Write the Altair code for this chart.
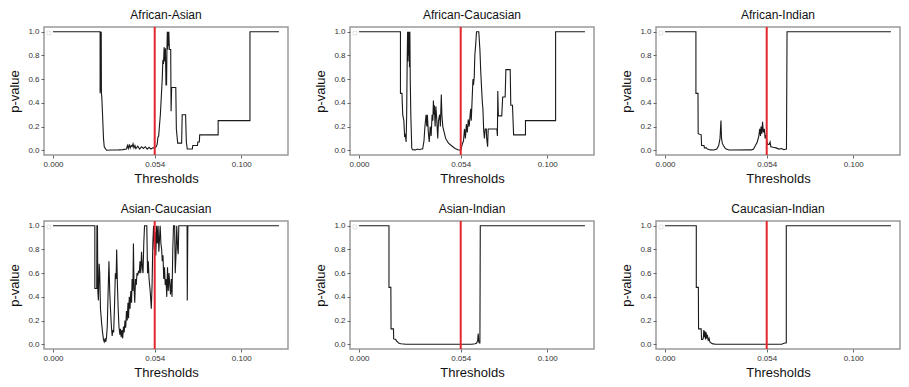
import altair as alt
import pandas as pd

FONT = "Liberation Sans"
THRESHOLD = 0.054
X_TICKS = [0.0, 0.054, 0.1]
Y_TICKS = [0.0, 0.2, 0.4, 0.6, 0.8, 1.0]

titles = ["African-Asian", "African-Caucasian", "African-Indian",
          "Asian-Caucasian", "Asian-Indian", "Caucasian-Indian"]

# ---- African-Asian ----
aa_x = [0, 0.025, 0.025, 0.0252, 0.0253, 0.0254, 0.0255, 0.0256, 0.0257, 0.0259, 0.0263, 0.0268,
        0.0272, 0.028, 0.0285, 0.031, 0.035, 0.037, 0.039, 0.0395, 0.040, 0.0405, 0.041, 0.0415,
        0.042, 0.0425, 0.043, 0.0435, 0.044, 0.045, 0.046, 0.047, 0.048, 0.049, 0.050, 0.051,
        0.052, 0.053, 0.054, 0.0548, 0.0553, 0.0557, 0.0561, 0.0565, 0.057, 0.0575, 0.058, 0.0583,
        0.0587, 0.059, 0.0594, 0.0597, 0.060, 0.0603, 0.0605, 0.0607, 0.0609, 0.0611, 0.0613,
        0.0615, 0.0618, 0.0625, 0.0627, 0.063, 0.0652, 0.0655, 0.0662, 0.0683, 0.0686, 0.0704,
        0.0708, 0.0713, 0.074, 0.0742, 0.0767, 0.0769, 0.0777, 0.0779, 0.0877, 0.0877, 0.1046,
        0.1046, 0.12]
aa_y = [1, 1, 0.48, 1.0, 0.5, 1.0, 0.5, 1.0, 0.48, 0.45, 0.3, 0.1,
        0.03, 0.01, 0.0, 0.002, 0.003, 0.005, 0.01, 0.04, 0.015, 0.05, 0.02, 0.04,
        0.03, 0.055, 0.02, 0.04, 0.015, 0.035, 0.01, 0.03, 0.015, 0.03, 0.01, 0.025,
        0.01, 0.02, 0.02, 0.03, 0.05, 0.11, 0.12, 0.2, 0.3, 0.45, 0.6, 0.75,
        0.74, 0.87, 0.75, 0.86, 0.55, 0.55, 0.85, 1.0, 0.85, 1.0, 0.88,
        1.0, 0.85, 0.85, 0.33, 0.53, 0.53, 0.18, 0.06, 0.06, 0.3, 0.3,
        0.07, 0.01, 0.01, 0.04, 0.04, 0.07, 0.07, 0.13, 0.13, 0.25, 0.25,
        1.0, 1.0]

# ---- African-Caucasian ----
ac_x = [0, 0.022, 0.022, 0.0228, 0.0232, 0.0238, 0.0242, 0.0246, 0.025, 0.0253, 0.0256, 0.0258,
        0.026, 0.0262, 0.0264, 0.0266, 0.0268, 0.027, 0.0272, 0.0275, 0.028, 0.0284, 0.030, 0.031,
        0.032, 0.033, 0.0338, 0.0345, 0.035, 0.0356, 0.036, 0.0363, 0.0368, 0.0373, 0.0378,
        0.0383, 0.0388, 0.0392, 0.0395, 0.0398, 0.040, 0.0404, 0.0408, 0.0412, 0.0418, 0.0422,
        0.0428, 0.0432, 0.0437, 0.044, 0.0445, 0.046, 0.0475, 0.049, 0.051, 0.0525, 0.054,
        0.0548, 0.0555, 0.056, 0.0565, 0.057, 0.0575, 0.058, 0.0585, 0.059, 0.0593, 0.0596,
        0.060, 0.0605, 0.0608, 0.0612, 0.0615, 0.062, 0.0624, 0.0636, 0.0642, 0.0646, 0.065,
        0.0655, 0.0658, 0.0662, 0.0666, 0.067, 0.0676, 0.0678, 0.0683, 0.0686, 0.0732, 0.0735,
        0.0737, 0.074, 0.0758, 0.0763, 0.0776, 0.078, 0.0803, 0.0806, 0.0815, 0.0821, 0.0884,
        0.0884, 0.1044, 0.1044, 0.12]
ac_y = [1, 1, 0.48, 0.48, 0.3, 0.25, 0.12, 0.13, 0.07, 0.3, 0.8, 1.0,
        0.75, 1.0, 0.8, 1.0, 0.7, 1.0, 0.6, 0.3, 0.02, 0.005, 0.003, 0.01,
        0.005, 0.01, 0.01, 0.08, 0.2, 0.3, 0.2, 0.3, 0.15, 0.07, 0.2,
        0.12, 0.3, 0.25, 0.42, 0.3, 0.38, 0.2, 0.37, 0.28, 0.1, 0.25,
        0.3, 0.2, 0.47, 0.3, 0.2, 0.1, 0.06, 0.04, 0.015, 0.005, 0.0,
        0.05, 0.08, 0.18, 0.1, 0.22, 0.15, 0.26, 0.2, 0.3, 0.35, 0.25,
        0.4, 0.6, 0.55, 0.62, 0.8, 0.9, 1.0, 1.0, 0.85, 0.68, 0.55,
        0.4, 0.35, 0.17, 0.1, 0.18, 0.18, 0.1, 0.03, 0.18, 0.18, 0.12,
        0.5, 0.29, 0.29, 0.45, 0.45, 0.68, 0.68, 0.38, 0.38, 0.13, 0.13,
        0.25, 0.25, 1.0, 1.0]

# ---- African-Indian ----
ai_x = [0, 0.0164, 0.0164, 0.0175, 0.0176, 0.0192, 0.0194, 0.0207, 0.0209, 0.022, 0.0225, 0.024,
        0.026, 0.0275, 0.0285, 0.0292, 0.0297, 0.030, 0.0304, 0.031, 0.0318, 0.0325, 0.034,
        0.046, 0.047, 0.048, 0.049, 0.0498, 0.0503, 0.0507, 0.051, 0.0514, 0.0518, 0.0522,
        0.0527, 0.0532, 0.0537, 0.054, 0.0545, 0.0553, 0.0558, 0.0562, 0.0575, 0.059, 0.0605,
        0.062, 0.063, 0.0645, 0.0648, 0.12]
ai_y = [1, 1, 0.48, 0.48, 0.14, 0.13, 0.04, 0.04, 0.02, 0.02, 0.01, 0.003,
        0.002, 0.01, 0.04, 0.1, 0.25, 0.1, 0.06, 0.04, 0.02, 0.01, 0.002,
        0.003, 0.01, 0.04, 0.07, 0.12, 0.18, 0.12, 0.2, 0.14, 0.24, 0.15,
        0.18, 0.1, 0.13, 0.08, 0.05, 0.05, 0.07, 0.03, 0.025, 0.02, 0.01,
        0.015, 0.005, 0.01, 1.0, 1.0]

# ---- Asian-Caucasian ----
asc_x = [0, 0.0222, 0.0222, 0.0232, 0.0233, 0.0236, 0.0238, 0.0241, 0.0245, 0.0248, 0.0252,
         0.0258, 0.0263, 0.0268, 0.0272, 0.0277, 0.028, 0.0284, 0.0288, 0.0292, 0.0297, 0.0301,
         0.0305, 0.031, 0.0314, 0.0318, 0.0322, 0.0327, 0.0331, 0.0335, 0.0338, 0.0342, 0.0346,
         0.035, 0.0355, 0.0358, 0.0362, 0.0366, 0.037, 0.0374, 0.0378, 0.0382, 0.0386, 0.039,
         0.0394, 0.0398, 0.0401, 0.0405, 0.0409, 0.0413, 0.0417, 0.042, 0.0424, 0.0427, 0.043,
         0.0434, 0.0438, 0.0442, 0.0446, 0.045, 0.0454, 0.0458, 0.0462, 0.0466, 0.047, 0.0474,
         0.0478, 0.0482, 0.0486, 0.0498, 0.0502, 0.0506, 0.051, 0.0516, 0.0522, 0.0526, 0.053,
         0.0534, 0.0538, 0.0542, 0.0546, 0.055, 0.0554, 0.0558, 0.0562, 0.0566, 0.0569, 0.0573,
         0.0577, 0.058, 0.0584, 0.0588, 0.0592, 0.0596, 0.060, 0.0604, 0.0608, 0.0612, 0.0616,
         0.062, 0.0624, 0.0628, 0.0632, 0.0636, 0.064, 0.0646, 0.0649, 0.0653, 0.0657, 0.0662,
         0.0665, 0.0668, 0.0712, 0.0713, 0.0716, 0.12]
asc_y = [1, 1, 0.47, 0.47, 1.0, 1.0, 0.45, 0.37, 0.68, 0.6, 0.3,
         0.18, 0.1, 0.04, 0.02, 0.05, 0.02, 0.06, 0.15, 0.4, 0.7, 0.45,
         0.3, 0.15, 0.07, 0.12, 0.1, 0.35, 0.6, 0.55, 0.8, 0.5, 0.3,
         0.15, 0.08, 0.13, 0.06, 0.12, 0.05, 0.15, 0.1, 0.2, 0.14, 0.28,
         0.2, 0.35, 0.22, 0.4, 0.3, 0.45, 0.35, 0.55, 0.45, 0.85, 0.5,
         0.35, 0.55, 0.5, 0.6, 0.58, 0.62, 0.6, 0.7, 0.6, 0.78, 0.65,
         0.6, 0.85, 1.0, 1.0, 0.6, 0.7, 0.55, 0.45, 0.3, 0.5, 0.85,
         1.0, 0.8, 0.95, 0.75, 1.0, 0.85, 1.0, 0.78, 0.9, 1.0, 0.85,
         0.8, 0.7, 0.75, 0.55, 0.65, 0.5, 0.55, 0.4, 0.65, 0.45, 0.6,
         0.5, 0.42, 0.55, 0.4, 0.8, 1.0, 1.0, 0.6, 0.75, 1.0, 0.8,
         0.76, 1.0, 1.0, 0.37, 1.0, 1.0]

# ---- Asian-Indian ----
asi_x = [0, 0.0159, 0.0159, 0.0169, 0.017, 0.0183, 0.0184, 0.0195, 0.020, 0.0205, 0.021,
         0.0222, 0.025, 0.060, 0.0617, 0.0625, 0.063, 0.0633, 0.0636, 0.0639, 0.0642, 0.0644, 0.12]
asi_y = [1, 1, 0.48, 0.48, 0.13, 0.13, 0.045, 0.04, 0.025, 0.02, 0.01,
         0.004, 0.0, 0.0, 0.005, 0.01, 0.03, 0.09, 0.02, 0.01, 0.01, 1.0, 1.0]

# ---- Caucasian-Indian ----
ci_x = [0, 0.0166, 0.0166, 0.0177, 0.0178, 0.0192, 0.0194, 0.020, 0.0203, 0.0206, 0.0209,
        0.0212, 0.0215, 0.0218, 0.0222, 0.0225, 0.0229, 0.0234, 0.0238, 0.0245, 0.0255, 0.027,
        0.062, 0.0635, 0.0644, 0.0644, 0.12]
ci_y = [1, 1, 0.48, 0.48, 0.13, 0.13, 0.04, 0.04, 0.05, 0.12, 0.06,
        0.11, 0.04, 0.1, 0.05, 0.08, 0.03, 0.05, 0.02, 0.01, 0.003, 0.0,
        0.0, 0.01, 0.01, 1.0, 1.0]

series = [(aa_x, aa_y), (ac_x, ac_y), (ai_x, ai_y),
          (asc_x, asc_y), (asi_x, asi_y), (ci_x, ci_y)]

W, H = 244, 128

xscale = alt.Scale(domain=[-0.0048, 0.1248], nice=False, zero=False)
yscale = alt.Scale(domain=[-0.04, 1.04], nice=False, zero=False)
xaxis = alt.Axis(values=X_TICKS, format=".3f", title="Thresholds", titlePadding=4)
yaxis = alt.Axis(values=Y_TICKS, format=".1f", title="p-value", titlePadding=6)

thr_df = pd.DataFrame({"x": [THRESHOLD]})


def panel(title, xs, ys):
    df = pd.DataFrame({"x": xs, "y": ys, "i": list(range(len(xs)))})
    line = alt.Chart(df).mark_line(color="#1a1a1a", strokeWidth=1.1).encode(
        x=alt.X("x:Q", scale=xscale, axis=xaxis),
        y=alt.Y("y:Q", scale=yscale, axis=yaxis),
        order=alt.Order("i:Q"),
    )
    rule = alt.Chart(thr_df).mark_rule(color="#e3262b", strokeWidth=2).encode(
        x=alt.X("x:Q", scale=xscale, axis=xaxis)
    )
    box = alt.Chart(thr_df).mark_point(
        shape="square", filled=False, size=14, color="#cfcfcf", strokeWidth=0.8
    ).encode(x=alt.value(5), y=alt.value(6))
    return alt.layer(line, rule, box).properties(width=W, height=H, title=title)


panels = [panel(t, sx, sy) for t, (sx, sy) in zip(titles, series)]

chart = alt.vconcat(
    alt.hconcat(*panels[:3], spacing=25),
    alt.hconcat(*panels[3:], spacing=25),
    spacing=16,
).properties(
    padding=0, background="white"
).configure_view(
    stroke="#9a9a9a", strokeWidth=1.5
).configure_axis(
    domain=False, grid=False, tickSize=3, tickColor="#666666", labelPadding=2,
    labelFontSize=8, labelColor="#333333", labelFont=FONT,
    titleFontSize=13, titleFontWeight="normal", titleColor="#111111", titleFont=FONT,
).configure_title(
    fontSize=12, fontWeight="normal", font=FONT, color="#111111", offset=4, anchor="middle"
)

chart.save("out.html", embed_options={"renderer": "svg", "actions": False})
